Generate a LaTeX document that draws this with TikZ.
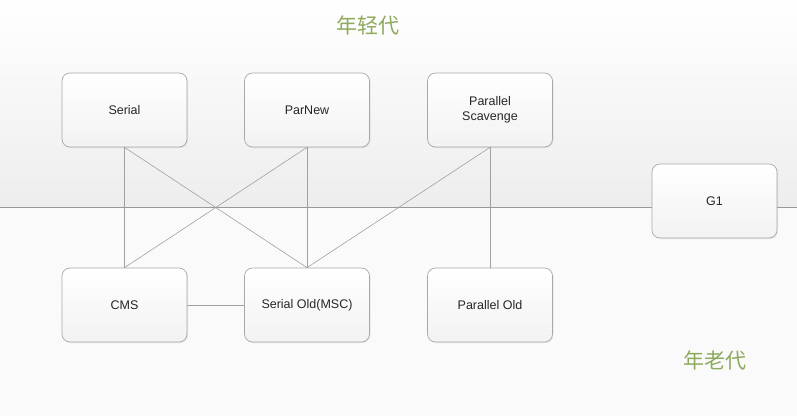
\documentclass[tikz,border=0pt]{standalone}
\usepackage{fontspec}
\setmainfont{Liberation Sans}
\newfontfamily\cjk{Noto Sans CJK SC}
\usetikzlibrary{shadows}
\definecolor{gtext}{HTML}{8DAA5C}
\definecolor{boxline}{HTML}{A8A8A8}
\definecolor{conn}{HTML}{A0A0A0}
\begin{document}
\begin{tikzpicture}[x=1pt,y=-1pt,
  gcbox/.style={draw=boxline, line width=0.7pt, rounded corners=8pt,
    minimum width=125pt, minimum height=74pt, top color=white, bottom color=black!5,
    align=center, font=\fontsize{12.5}{15}\selectfont, text=black!85,
    drop shadow={shadow xshift=1pt, shadow yshift=-1pt, opacity=0.15}},
  conline/.style={draw=conn, line width=0.6pt},
  gen/.style={font=\cjk\fontsize{21}{25}\selectfont, text=gtext}]
\useasboundingbox (0,0) rectangle (797,416);
\shade[top color=white, bottom color=black!7] (0,0) rectangle (797,207);
\fill[black!2] (0,207) rectangle (797,416);
\draw[black!40, line width=0.8pt] (0,207) -- (797,207);
\node[gen] (young) at (368,25) {年轻代};
\node[gen] (old) at (715,360) {年老代};
\node[gcbox] (serial) at (124.5,110) {Serial};
\node[gcbox] (parnew) at (307,110) {ParNew};
\node[gcbox] (ps) at (490,110) {Parallel\\Scavenge};
\node[gcbox] (g1) at (714.5,201) {G1};
\node[gcbox] (cms) at (124.5,305) {CMS};
\node[gcbox] (so) at (307,305) {Serial Old(MSC)};
\node[gcbox] (po) at (490,305) {Parallel Old};
\draw[conline] (serial.south) -- (cms.north);
\draw[conline] (serial.south) -- (so.north);
\draw[conline] (parnew.south) -- (cms.north);
\draw[conline] (parnew.south) -- (so.north);
\draw[conline] (ps.south) -- (so.north);
\draw[conline] (ps.south) -- (po.north);
\draw[conline] (cms.east) -- (so.west);
\end{tikzpicture}
\end{document}
